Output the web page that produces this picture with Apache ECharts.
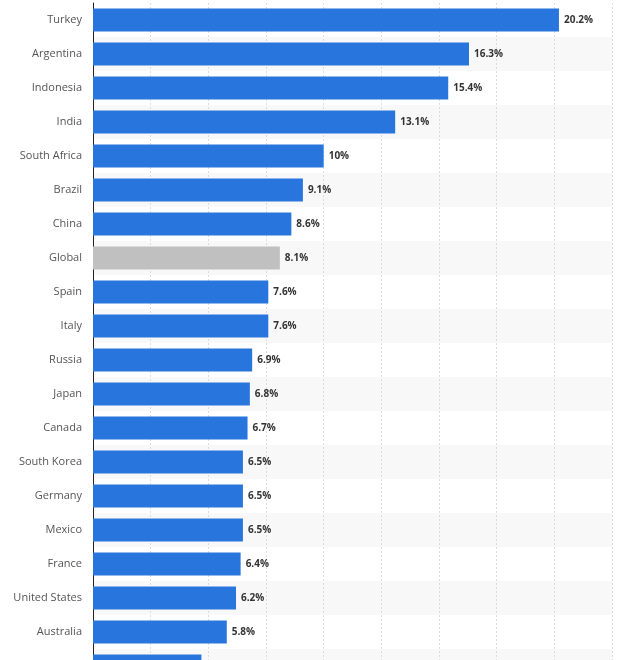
<!DOCTYPE html>
<html>
<head>
<meta charset="utf-8">
<script src="https://cdn.jsdelivr.net/npm/echarts@6/dist/echarts.min.js"></script>
<style>
html,body{margin:0;padding:0;background:#fff;}
#chart{width:638px;height:660px;}
</style>
</head>
<body>
<div id="chart"></div>
<script>
const categories = ["Turkey","Argentina","Indonesia","India","South Africa","Brazil","China","Global","Spain","Italy","Russia","Japan","Canada","South Korea","Germany","Mexico","France","United States","Australia","Sweden"];
const values = [20.2,16.3,15.4,13.1,10,9.1,8.6,8.1,7.6,7.6,6.9,6.8,6.7,6.5,6.5,6.5,6.4,6.2,5.8,4.7];
const highlight = "Global";

const chart = echarts.init(document.getElementById('chart'), null, {renderer:'canvas'});
chart.setOption({
  animation:false,
  backgroundColor:'#ffffff',
  grid:{left:93, right:26, top:3, bottom:-23, containLabel:false, outerBoundsMode:'none'},
  xAxis:{
    type:'value', min:0, max:22.5, interval:2.5,
    axisLine:{show:false}, axisTick:{show:false}, axisLabel:{show:false},
    splitLine:{show:true, lineStyle:{color:'#dcdcdc', type:[2,2], width:1}}
  },
  yAxis:{
    type:'category', data:categories, inverse:true,
    axisLine:{show:true, lineStyle:{color:'#222', width:1}},
    axisTick:{show:false},
    axisLabel:{fontFamily:'Open Sans', fontSize:11, color:'#555', margin:11},
    splitArea:{show:true, areaStyle:{color:['#ffffff','#f8f8f8']}}
  },
  series:[{
    type:'bar',
    data:values.map((v,i)=>({value:v, itemStyle:{color: categories[i]===highlight ? '#c0c0c0' : '#2876dd'}})),
    barCategoryGap:'32%',
    label:{show:true, position:'right', distance:5, formatter:p=>p.value+'%',
      fontFamily:'Open Sans', fontWeight:'bold', fontSize:10, color:'#333'}
  }]
});
</script>
</body>
</html>
